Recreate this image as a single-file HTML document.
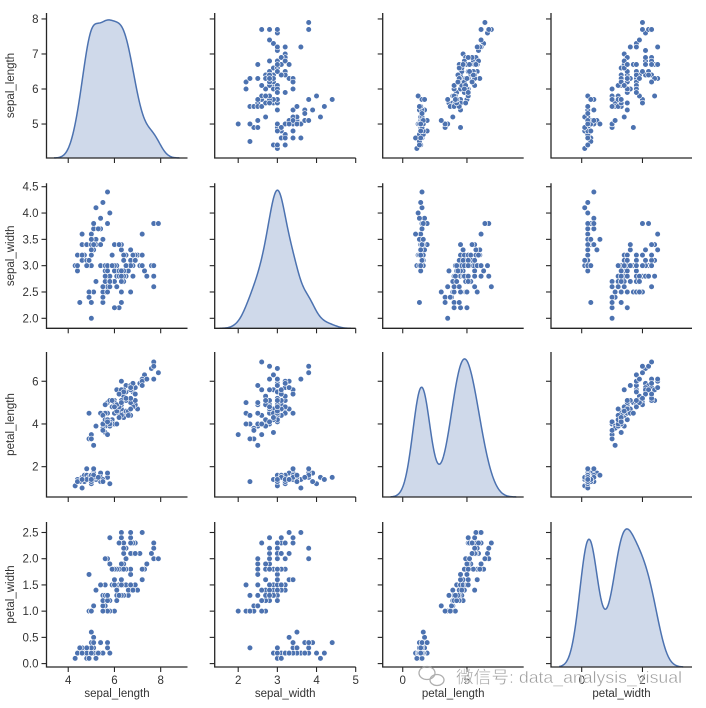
<!DOCTYPE html>
<html><head><meta charset="utf-8">
<style>
html,body{margin:0;padding:0;background:#fff;}
svg{display:block;font-family:"Liberation Sans","Noto Sans CJK SC",sans-serif;}
</style></head>
<body>
<svg id="chart" width="706" height="708" viewBox="0 0 706 708" xmlns="http://www.w3.org/2000/svg">
<g id="plots"></g>
<g>
  <g fill="none" stroke="#9a9a9a" stroke-width="1.3" opacity="0.8">
    <ellipse cx="427" cy="673" rx="8" ry="6.5"/>
    <ellipse cx="437" cy="680" rx="7" ry="5.5"/>
  </g>
  <text x="456" y="683" font-size="17" textLength="226" lengthAdjust="spacingAndGlyphs" fill="#8c8c8c" opacity="0.85" stroke="#fff" stroke-width="0.4">微信号: data_analysis_visual</text>
</g>
</svg>
<script>
const names = ["sepal_length","sepal_width","petal_length","petal_width"];
const sepalLength = [5.1,4.9,4.7,4.6,5.0,5.4,4.6,5.0,4.4,4.9,5.4,4.8,4.8,4.3,5.8,5.7,5.4,5.1,5.7,5.1,5.4,5.1,4.6,5.1,4.8,5.0,5.0,5.2,5.2,4.7,4.8,5.4,5.2,5.5,4.9,5.0,5.5,4.9,4.4,5.1,5.0,4.5,4.4,5.0,5.1,4.8,5.1,4.6,5.3,5.0,
7.0,6.4,6.9,5.5,6.5,5.7,6.3,4.9,6.6,5.2,5.0,5.9,6.0,6.1,5.6,6.7,5.6,5.8,6.2,5.6,5.9,6.1,6.3,6.1,6.4,6.6,6.8,6.7,6.0,5.7,5.5,5.5,5.8,6.0,5.4,6.0,6.7,6.3,5.6,5.5,5.5,6.1,5.8,5.0,5.6,5.7,5.7,6.2,5.1,5.7,
6.3,5.8,7.1,6.3,6.5,7.6,4.9,7.3,6.7,7.2,6.5,6.4,6.8,5.7,5.8,6.4,6.5,7.7,7.7,6.0,6.9,5.6,7.7,6.3,6.7,7.2,6.2,6.1,6.4,7.2,7.4,7.9,6.4,6.3,6.1,7.7,6.3,6.4,6.0,6.9,6.7,6.9,5.8,6.8,6.7,6.7,6.3,6.5,6.2,5.9];
const sepalWidth = [3.5,3.0,3.2,3.1,3.6,3.9,3.4,3.4,2.9,3.1,3.7,3.4,3.0,3.0,4.0,4.4,3.9,3.5,3.8,3.8,3.4,3.7,3.6,3.3,3.4,3.0,3.4,3.5,3.4,3.2,3.1,3.4,4.1,4.2,3.1,3.2,3.5,3.1,3.0,3.4,3.5,2.3,3.2,3.5,3.8,3.0,3.8,3.2,3.7,3.3,
3.2,3.2,3.1,2.3,2.8,2.8,3.3,2.4,2.9,2.7,2.0,3.0,2.2,2.9,2.9,3.1,3.0,2.7,2.2,2.5,3.2,2.8,2.5,2.8,2.9,3.0,2.8,3.0,2.9,2.6,2.4,2.4,2.7,2.7,3.0,3.4,3.1,2.3,3.0,2.5,2.6,3.0,2.6,2.3,2.7,3.0,2.9,2.9,2.5,2.8,
3.3,2.7,3.0,2.9,3.0,3.0,2.5,2.9,2.5,3.6,3.2,2.7,3.0,2.5,2.8,3.2,3.0,3.8,2.6,2.2,3.2,2.8,2.8,2.7,3.3,3.2,2.8,3.0,2.8,3.0,2.8,3.8,2.8,2.8,2.6,3.0,3.4,3.1,3.0,3.1,3.1,3.1,2.7,3.2,3.3,3.0,2.5,3.0,3.4,3.0];
const petalLength = [1.4,1.4,1.3,1.5,1.4,1.7,1.4,1.5,1.4,1.5,1.5,1.6,1.4,1.1,1.2,1.5,1.3,1.4,1.7,1.5,1.7,1.5,1.0,1.7,1.9,1.6,1.6,1.5,1.4,1.6,1.6,1.5,1.5,1.4,1.5,1.2,1.3,1.5,1.3,1.5,1.3,1.3,1.3,1.6,1.9,1.4,1.6,1.4,1.5,1.4,
4.7,4.5,4.9,4.0,4.6,4.5,4.7,3.3,4.6,3.9,3.5,4.2,4.0,4.7,3.6,4.4,4.5,4.1,4.5,3.9,4.8,4.0,4.9,4.7,4.3,4.4,4.8,5.0,4.5,3.5,3.8,3.7,3.9,5.1,4.5,4.5,4.7,4.4,4.1,4.0,4.4,4.6,4.0,3.3,4.2,4.2,4.2,4.3,3.0,4.1,
6.0,5.1,5.9,5.6,5.8,6.6,4.5,6.3,5.8,6.1,5.1,5.3,5.5,5.0,5.1,5.3,5.5,6.7,6.9,5.0,5.7,4.9,6.7,4.9,5.7,6.0,4.8,4.9,5.6,5.8,6.1,6.4,5.6,5.1,5.6,6.1,5.6,5.5,4.8,5.4,5.6,5.1,5.1,5.9,5.7,5.2,5.0,5.2,5.4,5.1];
const petalWidth = [0.2,0.2,0.2,0.2,0.2,0.4,0.3,0.2,0.2,0.1,0.2,0.2,0.1,0.1,0.2,0.4,0.4,0.3,0.3,0.3,0.2,0.4,0.2,0.5,0.2,0.2,0.4,0.2,0.2,0.2,0.2,0.4,0.1,0.2,0.1,0.2,0.2,0.1,0.2,0.2,0.3,0.3,0.2,0.6,0.4,0.3,0.2,0.2,0.2,0.2,
1.4,1.5,1.5,1.3,1.5,1.3,1.6,1.0,1.3,1.4,1.0,1.5,1.0,1.4,1.3,1.4,1.5,1.0,1.5,1.1,1.8,1.3,1.5,1.2,1.3,1.4,1.4,1.7,1.5,1.0,1.1,1.0,1.2,1.6,1.5,1.6,1.5,1.3,1.3,1.3,1.2,1.4,1.2,1.0,1.3,1.2,1.3,1.3,1.1,1.3,
2.5,1.9,2.1,1.8,2.2,2.1,1.7,1.8,1.8,2.5,2.0,1.9,2.1,2.0,2.4,2.3,1.8,2.2,2.3,1.5,2.3,2.0,2.0,1.8,2.1,1.8,1.8,1.8,2.1,1.6,1.9,2.0,2.2,1.5,1.4,2.3,2.4,1.8,1.8,2.1,2.4,2.3,1.9,2.3,2.5,2.3,1.9,2.0,2.3,1.8];
const limits = [[4.03,8.17],[1.81,4.565],[0.58,7.37],[-0.065,2.70]];
const xLimits = [[3.06,9.16],[1.40,5.0],[-1.56,9.42],[-1.01,3.63]];
const yTicks = [[5,6,7,8],[2.0,2.5,3.0,3.5,4.0,4.5],[2,4,6],[0.0,0.5,1.0,1.5,2.0,2.5]];
const yTickLabels = [["5","6","7","8"],["2.0","2.5","3.0","3.5","4.0","4.5"],["2","4","6"],["0.0","0.5","1.0","1.5","2.0","2.5"]];
const xTicks = [[4,6,8],[2,3,4,5],[0,5],[0,2]];
const xTickLabels = [["4","6","8"],["2","3","4","5"],["0","5"],["0","2"]];

const data = [sepalLength, sepalWidth, petalLength, petalWidth];
const NS = "http://www.w3.org/2000/svg";
const root = document.getElementById("plots");
const colLeft = [46.5,214.7,382.7,551], colW = 141;
const rowTop = [13,183.3,352,522], rowH = 145;
const blue = "#4c72b0";
function mk(tag, attrs, parent){const e=document.createElementNS(NS,tag);for(const k in attrs)e.setAttribute(k,attrs[k]);parent.appendChild(e);return e;}
function xs(c,v){const [a,b]=xLimits[c];return colLeft[c]+(v-a)/(b-a)*colW;}
function ys(r,v){const [a,b]=limits[r];return rowTop[r]+rowH-(v-a)/(b-a)*rowH;}

for(let r=0;r<4;r++){
  for(let c=0;c<4;c++){
    const g=mk("g",{},root);
    
    
    const L=colLeft[c],T=rowTop[r],B=T+rowH,R=L+colW;
    if(r===c){
      const v=data[c], n=v.length;
      const mean=v.reduce((s,x)=>s+x,0)/n;
      const sd=Math.sqrt(v.reduce((s,x)=>s+(x-mean)*(x-mean),0)/(n-1));
      const bw=sd*Math.pow(n,-0.2);
      const lo=Math.min(...v)-3*bw, hi=Math.max(...v)+3*bw;
      const pts=[];let mx=0;
      for(let i=0;i<=200;i++){const x=lo+(hi-lo)*i/200;let d=0;for(const t of v){const z=(x-t)/bw;d+=Math.exp(-0.5*z*z);}d/=n*bw*Math.sqrt(2*Math.PI);pts.push([x,d]);if(d>mx)mx=d;}
      const top=mx*1.05;
      const P=pts.map(p=>[xs(c,p[0]),B-p[1]/top*rowH]);
      const line=P.map((p,i)=>(i?"L":"M")+p[0].toFixed(2)+","+p[1].toFixed(2)).join("");
      const fill=mk("path",{d:line+"L"+P[P.length-1][0].toFixed(2)+","+B+"L"+P[0][0].toFixed(2)+","+B+"Z",fill:blue,"fill-opacity":"0.27",stroke:"none"},g);
      
      
      const ln=mk("path",{d:line,fill:"none",stroke:blue,"stroke-width":"1.5"},g);
      
      
    } else {
      const xv=data[c], yv=data[r];
      for(let i=0;i<xv.length;i++){
        const pt=mk("circle",{cx:xs(c,xv[i]).toFixed(2),cy:ys(r,yv[i]).toFixed(2),r:"2.8",fill:blue,stroke:"#fff","stroke-width":"0.6"},g);
        
        
      }
    }
    const sp=mk("path",{d:`M${L},${T}L${L},${B}L${R},${B}`,fill:"none",stroke:"#262626","stroke-width":"1.3"},g);
    
    
    yTicks[r].forEach((t,i)=>{
      const y=ys(r,t);
      const tk=mk("line",{x1:L-5,x2:L,y1:y,y2:y,stroke:"#262626","stroke-width":"1.1"},g);
      
      
      if(c===0){
        const tl=mk("text",{x:L-8,y:y+4,"text-anchor":"end","font-size":"11.5",fill:"#333"},g);
        tl.textContent=yTickLabels[r][i];
        
        
      }
    });
    xTicks[c].forEach((t,i)=>{
      const x=xs(c,t);
      const tk=mk("line",{x1:x,x2:x,y1:B,y2:B+5,stroke:"#262626","stroke-width":"1.1"},g);
      
      
      if(r===3){
        const tl=mk("text",{x:x,y:B+17,"text-anchor":"middle","font-size":"11.5",fill:"#333"},g);
        tl.textContent=xTickLabels[c][i];
        
        
      }
    });
    if(c===0){
      const yl=mk("text",{transform:`translate(14,${T+rowH/2}) rotate(-90)`,"text-anchor":"middle","font-size":"11.5",fill:"#333"},g);
      yl.textContent=names[r];
      
      
    }
    if(r===3){
      const xl=mk("text",{x:L+colW/2,y:697,"text-anchor":"middle","font-size":"11.5",fill:"#333"},g);
      xl.textContent=names[c];
      
      
    }
  }
}
</script>
</body></html>
